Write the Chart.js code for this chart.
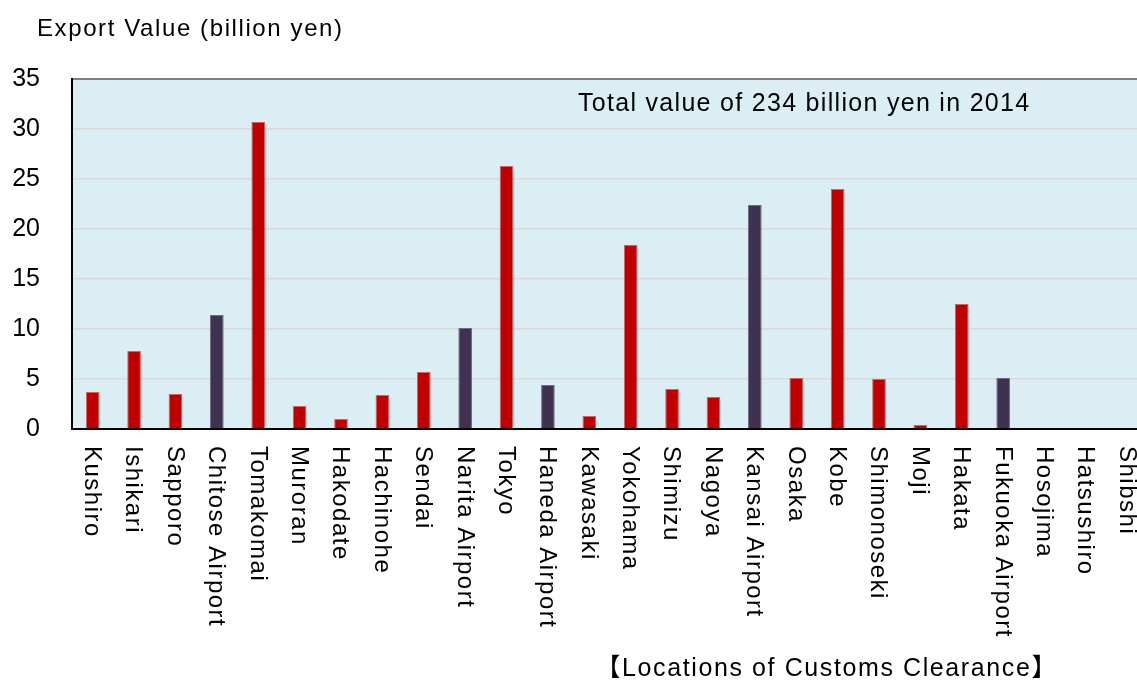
<!DOCTYPE html>
<html>
<head>
<meta charset="utf-8">
<script src="https://cdn.jsdelivr.net/npm/chart.js@4.4.1/dist/chart.umd.min.js"></script>
<style>
  html, body { margin: 0; padding: 0; background: #ffffff; overflow: hidden; }
  #wrap { position: relative; width: 1148px; height: 685px; }
</style>
</head>
<body>
<div id="wrap"><canvas id="c" width="1148" height="685"></canvas></div>
<script>
// Customs clearance locations, west-to-east order as listed
const locations = [
  'Kushiro', 'Ishikari', 'Sapporo', 'Chitose Airport', 'Tomakomai', 'Muroran',
  'Hakodate', 'Hachinohe', 'Sendai', 'Narita Airport', 'Tokyo', 'Haneda Airport',
  'Kawasaki', 'Yokohama', 'Shimizu', 'Nagoya', 'Kansai Airport', 'Osaka', 'Kobe',
  'Shimonoseki', 'Moji', 'Hakata', 'Fukuoka Airport', 'Hosojima', 'Hatsushiro', 'Shibshi'
];

// Export value per location (billion yen)
const exportValues = [
  3.7, 7.8, 3.5, 11.4, 30.7, 2.3,
  1.0, 3.4, 5.7, 10.1, 26.3, 4.4,
  1.3, 18.4, 4.0, 3.2, 22.4, 5.1, 24.0,
  5.0, 0.4, 12.5, 5.1, 0, 0, 0
];

// Locations that are airports (drawn in the darker colour)
const airportLocations = ['Chitose Airport', 'Narita Airport', 'Haneda Airport', 'Kansai Airport', 'Fukuoka Airport'];

// Value axis ticks
const yTicks = [0, 5, 10, 15, 20, 25, 30, 35];

const yAxisTitle = 'Export Value (billion yen)';
const totalNote = 'Total value of 234 billion yen in 2014';
const xAxisTitle = '【Locations of Customs Clearance】';

const PORT_COLOR = '#C00000';
const AIRPORT_COLOR = '#403151';
const FONT = '"Liberation Sans", Arial, "Noto Sans CJK JP", sans-serif';

const isAirport = locations.map(n => airportLocations.includes(n));

// Pale blue plot background
const plotBackground = {
  id: 'plotBackground',
  beforeDraw(chart) {
    const { ctx, chartArea: a } = chart;
    ctx.save();
    ctx.fillStyle = '#DBEEF3';
    ctx.fillRect(a.left, a.top, a.right - a.left, a.bottom - a.top);
    ctx.restore();
  }
};

// Vertical category labels plus free text (axis title, total note, axis caption)
const textLayer = {
  id: 'textLayer',
  afterDraw(chart) {
    const { ctx } = chart;
    const xs = chart.scales.x;
    ctx.save();
    ctx.fillStyle = '#000000';

    ctx.font = '24px ' + FONT;
    ctx.letterSpacing = '1.5px';
    ctx.textAlign = 'left';
    ctx.textBaseline = 'middle';
    locations.forEach((name, i) => {
      const x = xs.getPixelForTick(i);
      ctx.save();
      ctx.translate(x - 1, chart.chartArea.bottom + 17);
      ctx.rotate(Math.PI / 2);
      ctx.fillText(name, 0, 0);
      ctx.restore();
    });

    ctx.textBaseline = 'alphabetic';
    ctx.font = '24px ' + FONT;
    ctx.letterSpacing = '1.6px';
    ctx.fillText(yAxisTitle, 37, 36);

    ctx.font = '25px ' + FONT;
    ctx.letterSpacing = '1.3px';
    ctx.fillText(totalNote, 578, 111);

    ctx.font = '25px ' + FONT;
    ctx.letterSpacing = '1.6px';
    ctx.textAlign = 'right';
    ctx.fillText(xAxisTitle, 1058, 676);
    ctx.restore();
  }
};

new Chart(document.getElementById('c'), {
  type: 'bar',
  data: {
    labels: locations,
    datasets: [{
      data: exportValues,
      backgroundColor: isAirport.map(a => a ? AIRPORT_COLOR : PORT_COLOR),
      borderColor: isAirport.map(a => a ? '#6F6A86' : '#D8605F'),
      borderWidth: 1,
      borderSkipped: 'start',
      barPercentage: 0.33,
      categoryPercentage: 1.0
    }]
  },
  options: {
    responsive: false,
    animation: false,
    devicePixelRatio: 1,
    layout: { padding: { top: 79, bottom: 256, left: 0, right: 0 } },
    plugins: {
      legend: { display: false },
      tooltip: { enabled: false },
      title: { display: false }
    },
    scales: {
      x: {
        offset: true,
        afterFit(scale) { scale.height = 0; },
        ticks: { display: false },
        grid: { display: false },
        border: { display: true, color: '#000000', width: 2 }
      },
      y: {
        min: yTicks[0],
        max: yTicks[yTicks.length - 1],
        afterFit(scale) { scale.width = 72; },
        afterBuildTicks(scale) { scale.ticks = yTicks.map(v => ({ value: v })); },
        ticks: {
          color: '#000000',
          font: { family: FONT, size: 25 },
          padding: 32
        },
        grid: {
          drawTicks: false,
          color: c => (c.tick && c.tick.value === 35) ? '#7F7F7F' : '#D9D9D9',
          lineWidth: c => (c.tick && c.tick.value === 35) ? 2 : 1.5
        },
        border: { display: true, color: '#000000', width: 2 }
      }
    }
  },
  plugins: [plotBackground, textLayer]
});
</script>
</body>
</html>
